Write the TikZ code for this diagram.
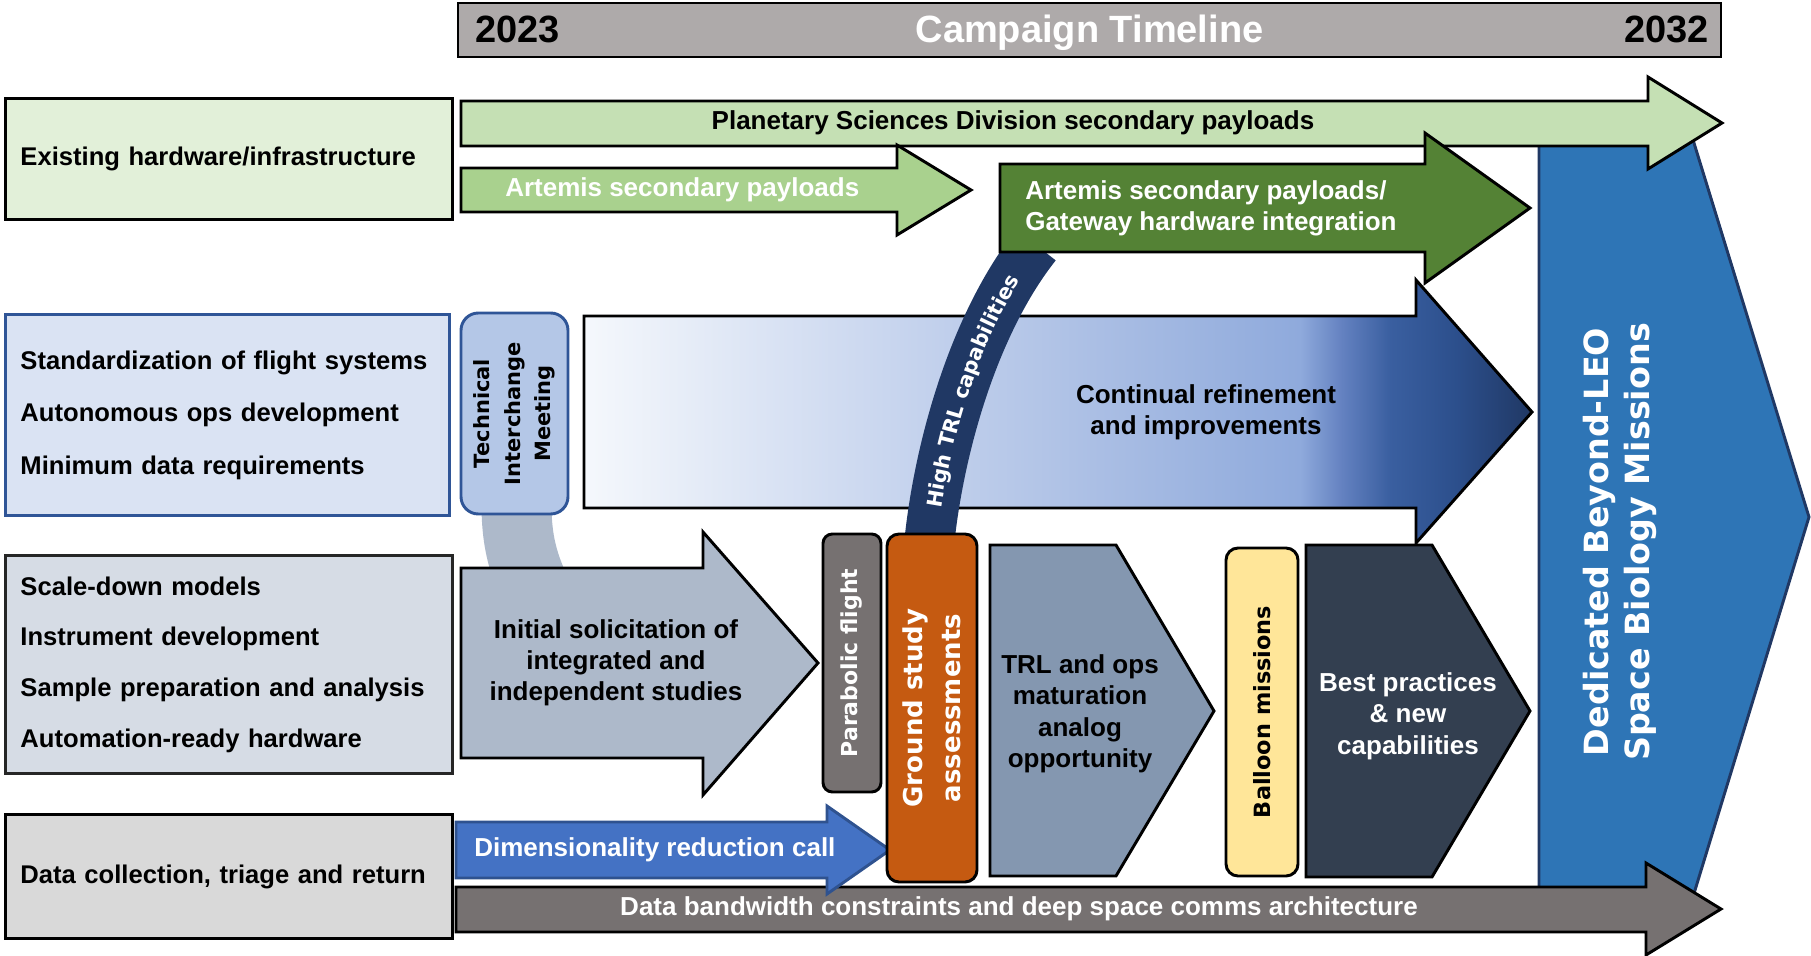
\documentclass[tikz,border=0pt]{standalone}
\usepackage{fontspec}
\setmainfont{Liberation Sans}
\newfontfamily\dejavu{DejaVu Sans}
\usetikzlibrary{positioning, calc, backgrounds, decorations.text}

\hyphenpenalty=10000
\exhyphenpenalty=10000

\newdimen\unitpx
\unitpx=0.75pt

% Colours
\definecolor{barGray}{HTML}{AEAAAA}
\definecolor{exFill}{HTML}{E2F0D9}
\definecolor{psdGreen}{HTML}{C5E0B4}
\definecolor{artGreen}{HTML}{A9D18E}
\definecolor{gwGreen}{HTML}{548235}
\definecolor{stdFill}{HTML}{DAE3F3}
\definecolor{stdLine}{HTML}{2F5597}
\definecolor{timFill}{HTML}{B4C7E7}
\definecolor{scaleFill}{HTML}{D6DCE5}
\definecolor{dataFill}{HTML}{D9D9D9}
\definecolor{solFill}{HTML}{ADB9CA}
\definecolor{paraGray}{HTML}{767171}
\definecolor{groundOrange}{HTML}{C55A11}
\definecolor{trlSlate}{HTML}{8497B0}
\definecolor{balloonYellow}{HTML}{FFE699}
\definecolor{bestNavy}{HTML}{333F50}
\definecolor{dedBlue}{HTML}{2E75B6}
\definecolor{navy}{HTML}{203864}
\definecolor{dimBlue}{HTML}{4472C4}
\definecolor{dimLine}{HTML}{2F528F}
\definecolor{refA}{HTML}{F5F8FC}
\definecolor{refB}{HTML}{CDD9F0}
\definecolor{refC}{HTML}{AABEE4}
\definecolor{refD}{HTML}{8FAADC}
\definecolor{refE}{HTML}{6381C0}
\definecolor{refF}{HTML}{3A5FA0}
\definecolor{refG}{HTML}{2C4F8C}
\definecolor{refH}{HTML}{203864}

\pgfdeclarehorizontalshading{refineShade}{100bp}{color(0bp)=(refA); color(25bp)=(refA);
  color(39.5bp)=(refB); color(52.2bp)=(refC); color(62.75bp)=(refD); color(65bp)=(refE);
  color(67.5bp)=(refF); color(71bp)=(refG); color(75bp)=(refH); color(100bp)=(refH)}

\newcommand{\lblfont}{\fontsize{19.5}{23.4}\selectfont\bfseries}
\newcommand{\sidefont}[1]{\fontsize{19.2}{#1}\selectfont\bfseries}
\newcommand{\yearfont}{\fontsize{28.5}{34}\selectfont\bfseries}
\newcommand{\pillfont}[2]{\fontsize{#1}{#2}\selectfont\dejavu\bfseries}
\newcommand{\trlfont}{\fontsize{15.5}{18}\selectfont\dejavu\bfseries\color{white}}

\tikzset{
    % Boxes
    sidebox/.style={rectangle, draw=black, line width=2.2pt, anchor=north west,
        minimum width=447\unitpx, text width=417\unitpx, inner xsep=15\unitpx,
        align=left, font=\sidefont{23}},
    pill/.style={rectangle, draw=black, line width=2.2pt, rounded corners=9pt,
        rotate=90, align=center, inner sep=0pt},
    % Block arrows & labels
    blk/.style={draw=black, line width=2.2pt, line join=miter, miter limit=10},
    lbl/.style={font=\lblfont, align=center, inner sep=0pt}
}

\begin{document}
\begin{tikzpicture}[x=0.75pt, y=-0.75pt]
\useasboundingbox (0,0) rectangle (1811,956);

% Timeline header
\node[draw=black, line width=2.2pt, fill=barGray, minimum width=1263\unitpx,
      minimum height=54\unitpx] (timeline) at (1089.5,30) {};
\node[lbl, anchor=base, text=white, font=\yearfont] (title) at (1089.5,43) {Campaign Timeline};
\node[lbl, anchor=base west, font=\yearfont] (start) at (475,43) {2023};
\node[lbl, anchor=base east, font=\yearfont] (finish) at (1709,43) {2032};

% Left column
\node[sidebox, fill=exFill, minimum height=121\unitpx] (hardware) at (4,97)
    {Existing hardware/infrastructure};
\node[sidebox, fill=stdFill, draw=stdLine, minimum width=444\unitpx, text width=414\unitpx,
      minimum height=201\unitpx, font=\sidefont{39.4}] (standards) at (4,313)
    {Standardization of flight systems\\Autonomous ops development\\Minimum data requirements};
\node[sidebox, fill=scaleFill, draw=black!85, minimum height=218\unitpx,
      font=\sidefont{38}] (models) at (4,554)
    {Scale-down models\\Instrument development\\Sample preparation and analysis\\Automation-ready hardware};
\node[sidebox, fill=dataFill, minimum height=124\unitpx] (datareturn) at (4,813)
    {Data collection, triage and return};

% Dedicated missions
\draw[blk, draw=navy, fill=dedBlue] (1539,130) -- (1690,130) -- (1809,517) -- (1692,900) -- (1539,900) -- cycle;
\node[lbl, rotate=90, text=white, font=\pillfont{25}{31}] (dedicated) at (1620,542)
    {Dedicated Beyond-LEO\\Space Biology Missions};

% Secondary payload arrows
\draw[blk, fill=psdGreen] (461,101) -- (1648,101) -- (1648,77) -- (1722,123) -- (1648,169) -- (1648,146) -- (461,146) -- cycle;
\node[lbl] (psd) at (1013,123) {Planetary Sciences Division secondary payloads};

\draw[blk, fill=artGreen] (461,168) -- (897,168) -- (897,145) -- (971,190) -- (897,235) -- (897,212) -- (461,212) -- cycle;
\node[lbl, text=white, anchor=west] (artemis) at (505,190) {Artemis secondary payloads};

% Technical interchange meeting
\node[pill, fill=timFill, draw=stdLine, rounded corners=13pt, minimum width=201\unitpx,
      minimum height=107\unitpx, font=\pillfont{15.75}{23}] (tim) at (514.5,413.5)
    {Technical\\Interchange\\Meeting};
\coordinate (solfoot) at (545,610);
\begin{scope}[on background layer]
\draw[line width=70\unitpx, draw=solFill] ($(tim.west)+(2,-8)$) .. controls (517,545) and (524,570) .. (solfoot);
\end{scope}

% Continual refinement
\shadedraw[blk, shading=refineShade] (584,316) -- (1416,316) -- (1416,280) -- (1532,412) -- (1416,543) -- (1416,508) -- (584,508) -- cycle;
\node[lbl] (refine) at (1206,412) {Continual refinement\\and improvements};

% Initial solicitation
\draw[blk, fill=solFill] (461,568) -- (703,568) -- (703,532) -- (818,663) -- (703,795) -- (703,758) -- (461,758) -- cycle;
\node[lbl] (solicit) at (616,663) {Initial solicitation of\\integrated and\\independent studies};

% High TRL capabilities band
\coordinate (trlfoot) at (929,545);
\coordinate (gwfoot) at (1036,245);
\draw[line width=50\unitpx, draw=navy] (trlfoot) .. controls (939,445) and (975,322) .. (gwfoot);
\path[decorate, decoration={text along path, text align=center, raise=-5.5pt,
      text={|\trlfont|High TRL capabilities}}] (trlfoot) .. controls (939,445) and (975,322) .. (gwfoot);

\draw[blk, fill=gwGreen] (1000,164) -- (1425,164) -- (1425,133) -- (1530,208) -- (1425,283) -- (1425,252) -- (1000,252) -- cycle;
\node[lbl, text=white, anchor=west, align=left] (gateway) at (1025,208)
    {Artemis secondary payloads/\\Gateway hardware integration};

% Data arrows
\draw[blk, fill=paraGray] (456,887) -- (1646,887) -- (1646,863) -- (1721,909) -- (1646,955) -- (1646,932) -- (456,932) -- cycle;
\node[lbl, text=white] (bandwidth) at (1019,909) {Data bandwidth constraints and deep space comms architecture};

\draw[blk, draw=dimLine, fill=dimBlue] (456,822) -- (827,822) -- (827,806) -- (890,850) -- (827,894) -- (827,878) -- (456,878) -- cycle;
\node[lbl, text=white, anchor=west] (dimred) at (474,850) {Dimensionality reduction call};

% Flight and ground opportunities
\node[pill, fill=paraGray, rounded corners=7pt, minimum width=258\unitpx, minimum height=58\unitpx,
      text=white, font=\pillfont{16.5}{19}] (parabolic) at (852,663) {Parabolic flight};
\node[pill, fill=groundOrange, minimum width=348\unitpx, minimum height=90\unitpx,
      text=white, font=\pillfont{19.5}{28.5}] (ground) at (932,708) {Ground study\\assessments};

\draw[blk, fill=trlSlate] (990,545) -- (1116,545) -- (1214,711) -- (1116,876) -- (990,876) -- cycle;
\node[lbl, font=\fontsize{19.5}{23.6}\selectfont\bfseries] (analog) at (1080,714)
    {TRL and ops\\maturation\\analog\\opportunity};

\node[pill, fill=balloonYellow, minimum width=328\unitpx, minimum height=72\unitpx,
      font=\pillfont{16.8}{20}] (balloon) at (1262,712) {Balloon missions};

\draw[blk, fill=bestNavy] (1306,545) -- (1432,545) -- (1530,711) -- (1432,877) -- (1306,877) -- cycle;
\node[lbl, text=white, font=\fontsize{19.5}{23.6}\selectfont\bfseries] (best) at (1408,716)
    {Best practices\\\& new\\capabilities};

\end{tikzpicture}
\end{document}
